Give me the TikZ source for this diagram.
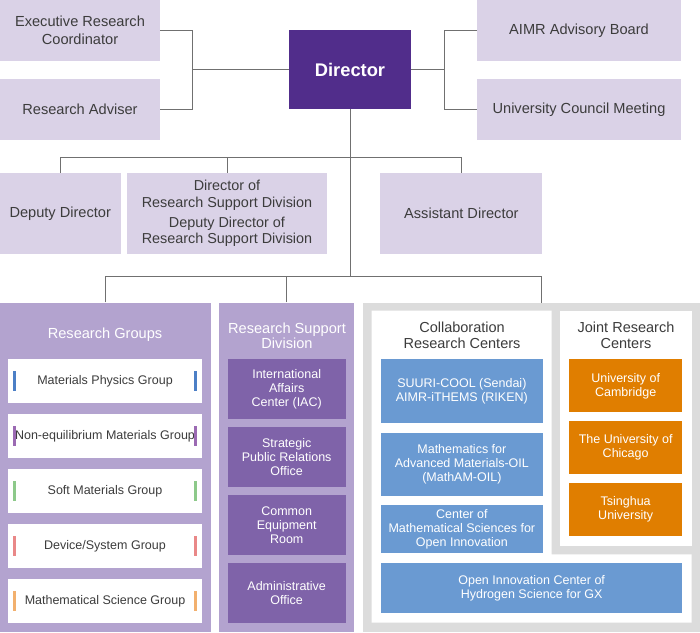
\documentclass[tikz,border=0pt]{standalone}
\usepackage{fontspec}
\setmainfont{Liberation Sans}
\usetikzlibrary{positioning}
\definecolor{lav}{HTML}{DAD2E7}
\definecolor{dirc}{HTML}{512D8B}
\definecolor{rgc}{HTML}{B3A3CF}
\definecolor{supc}{HTML}{7F63A9}
\definecolor{grayp}{HTML}{DCDCDC}
\definecolor{bluec}{HTML}{6A9AD2}
\definecolor{orc}{HTML}{E07E00}
\definecolor{lnc}{HTML}{707070}
\definecolor{txc}{HTML}{3C3C3C}
\definecolor{barb}{HTML}{4C7FC6}
\definecolor{barp}{HTML}{9B6AB3}
\definecolor{barg}{HTML}{8DC98A}
\definecolor{barr}{HTML}{E98888}
\definecolor{baro}{HTML}{F2B06E}
\tikzset{
  x=1pt,y=-1pt,
  lavbox/.style={fill=lav, text=txc, inner sep=0pt, align=center,
    font=\fontsize{14.6}{17.7}\selectfont},
  dirbox/.style={fill=dirc, text=white, inner sep=0pt, align=center,
    font=\fontsize{18.3}{21}\selectfont\bfseries},
  panel/.style={inner sep=0pt},
  grpbox/.style={fill=white, text=txc, inner sep=0pt, align=center,
    minimum width=193.4pt, minimum height=43.4pt,
    font=\fontsize{12.5}{14}\selectfont},
  supbox/.style={fill=supc, text=white, inner sep=0pt, align=center,
    minimum width=118pt, minimum height=59.8pt,
    font=\fontsize{12.5}{14}\selectfont},
  bluebox/.style={fill=bluec, text=white, inner sep=0pt, align=center,
    font=\fontsize{12.5}{14}\selectfont},
  orbox/.style={fill=orc, text=white, inner sep=0pt, align=center,
    minimum width=113.3pt, minimum height=53pt,
    font=\fontsize{12.5}{14}\selectfont},
  ttl/.style={inner sep=0pt, align=center, font=\fontsize{14.5}{16}\selectfont},
  conn/.style={draw=lnc, line width=0.9pt},
  barsty/.style={inner sep=0pt, minimum width=2.4pt, minimum height=20pt},
}
\begin{document}
\begin{tikzpicture}
\useasboundingbox (0,0) rectangle (700,632);
% top level
\node[lavbox, minimum width=160pt, minimum height=61pt] (erc) at (80,30.5) {Executive Research\\Coordinator};
\node[lavbox, minimum width=160pt, minimum height=61pt] (adv) at (80,109.5) {Research Adviser};
\node[dirbox, minimum width=122pt, minimum height=79pt] (dir) at (350,69.5) {Director};
\node[lavbox, minimum width=204pt, minimum height=61pt] (aimr) at (579,30.5) {AIMR Advisory Board};
\node[lavbox, minimum width=204pt, minimum height=61pt] (ucm) at (579,109.5) {University Council Meeting};
\coordinate (lj) at (192.7,69.5);
\coordinate (rj) at (444.3,69.5);
\draw[conn] (erc.east) -| (lj) |- (adv.east);
\draw[conn] (dir.west) -- (lj);
\draw[conn] (aimr.west) -| (rj) |- (ucm.west);
\draw[conn] (dir.east) -- (rj);
% second level
\node[lavbox, minimum width=120.5pt, minimum height=81.6pt] (dep) at (60.25,213.5) {Deputy Director};
\node[lavbox, minimum width=200pt, minimum height=81.6pt, font=\fontsize{14.4}{16.2}\selectfont] (drsd) at (227,213.5) {Director of\\Research Support Division\\[4pt]Deputy Director of\\Research Support Division};
\node[lavbox, minimum width=162pt, minimum height=81.6pt] (asst) at (461.4,213.5) {Assistant Director};
\coordinate (h1) at (350,157.3);
\coordinate (h2) at (350,276.7);
\draw[conn] (dir.south) -- (h2);
\draw[conn] (dep.north) -- (dep.north |- h1) -- (asst.north |- h1) -- (asst.north);
\draw[conn] (drsd.north) -- (drsd.north |- h1);
% panels
\node[panel, fill=rgc, minimum width=210.7pt, minimum height=329pt] (rg) at (105.35,467) {};
\node[panel, fill=rgc, minimum width=135pt, minimum height=329pt] (rsd) at (286.8,467) {};
\node[panel, fill=grayp, minimum width=336.7pt, minimum height=329.3pt] (gp) at (531.65,467.35) {};
\coordinate (gpc) at (541.6,302.7);
\draw[conn] (rg.north) -- (rg.north |- h2) -- (gpc |- h2) -- (gpc);
\draw[conn] (rsd.north) -- (rsd.north |- h2);
% research groups
\node[ttl, text=white, font=\fontsize{14.6}{16}\selectfont] (rgt) at (105,334.3) {Research Groups};
\node[grpbox] (g1) at (105,381) {Materials Physics Group};
\node[grpbox] (g2) at (105,436) {Non-equilibrium Materials Group};
\node[grpbox] (g3) at (105,491) {Soft Materials Group};
\node[grpbox] (g4) at (105,546) {Device/System Group};
\node[grpbox] (g5) at (105,601) {Mathematical Science Group};
\foreach \g/\c in {g1/barb,g2/barp,g3/barg,g4/barr,g5/baro}{
  \node[barsty, fill=\c] (\g l) at ([xshift=6.5pt]\g.west) {};
  \node[barsty, fill=\c] (\g r) at ([xshift=-6.5pt]\g.east) {};
}
% research support division
\node[ttl, text=white, font=\fontsize{14.6}{15.2}\selectfont] (rsdt) at (287,335.8) {Research Support\\Division};
\node[supbox] (s1) at (286.7,389.2) {International\\Affairs\\Center (IAC)};
\node[supbox] (s2) at (286.7,457.3) {Strategic\\Public Relations\\Office};
\node[supbox] (s3) at (286.7,525.2) {Common\\Equipment\\Room};
\node[supbox] (s4) at (286.7,592.9) {Administrative\\Office};
% gray panel interior
\fill[white] (371.7,310.7) -- (551.7,310.7) -- (551.7,554.3) -- (691.7,554.3) -- (691.7,622.7) -- (371.7,622.7) -- cycle;
\fill[white] (560,310.7) rectangle (691.7,546);
\node[ttl, text=txc] (crt) at (462,335.3) {Collaboration\\Research Centers};
\node[ttl, text=txc] (jrt) at (626,335.3) {Joint Research\\Centers};
\node[bluebox, minimum width=161.7pt, minimum height=64pt] (b1) at (461.85,391.3) {SUURI-COOL (Sendai)\\AIMR-iTHEMS (RIKEN)};
\node[bluebox, minimum width=161.7pt, minimum height=63pt] (b2) at (461.85,464.2) {Mathematics for\\Advanced Materials-OIL\\(MathAM-OIL)};
\node[bluebox, minimum width=161.7pt, minimum height=48.3pt] (b3) at (461.85,529.15) {Center of\\Mathematical Sciences for\\Open Innovation};
\node[bluebox, minimum width=301.3pt, minimum height=49.4pt] (b4) at (531.65,588) {Open Innovation Center of\\Hydrogen Science for GX};
\node[orbox] (o1) at (625.65,385.8) {University of\\Cambridge};
\node[orbox] (o2) at (625.65,447.5) {The University of\\Chicago};
\node[orbox] (o3) at (625.65,509.65) {Tsinghua\\University};
\end{tikzpicture}
\end{document}
